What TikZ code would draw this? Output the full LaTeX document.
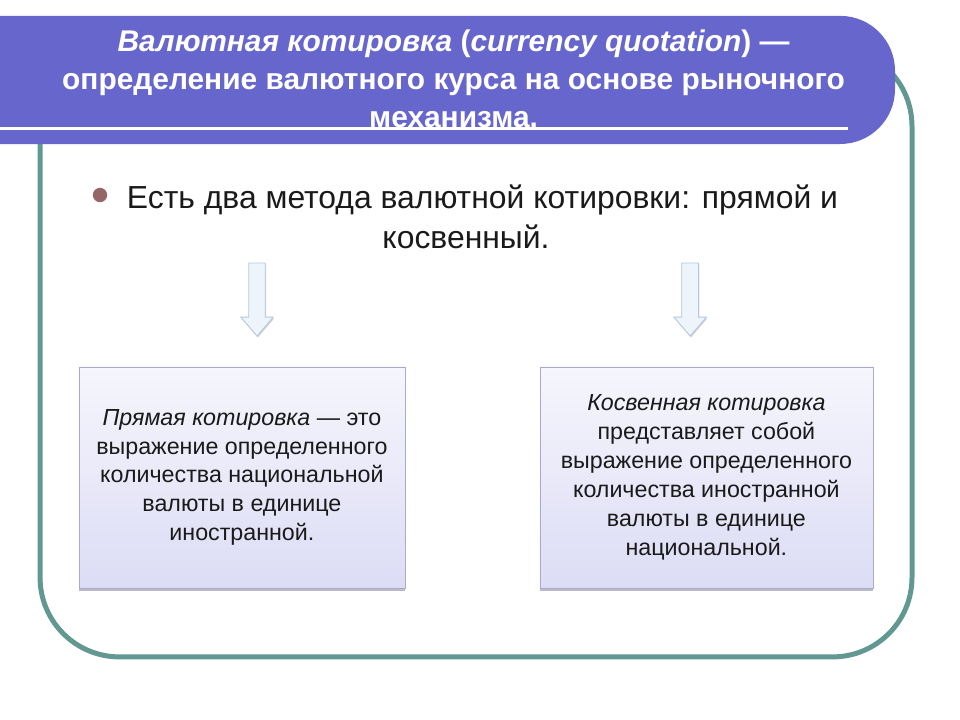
\documentclass[tikz,border=0pt]{standalone}
\usepackage{fontspec}
\setmainfont{Liberation Sans}
\usepackage{tikz}
\usetikzlibrary{positioning, calc, shadows}

\definecolor{bannerblue}{RGB}{102,102,204}
\definecolor{frameteal}{RGB}{98,152,146}
\definecolor{bulletmauve}{RGB}{150,102,102}
\definecolor{textdark}{RGB}{26,26,26}
\definecolor{arrowfill}{RGB}{238,244,252}
\definecolor{arrowedge}{RGB}{182,198,220}
\definecolor{boxtop}{RGB}{246,246,253}
\definecolor{boxbottom}{RGB}{220,220,245}
\definecolor{boxedge}{RGB}{170,170,205}
\definecolor{boxshadow}{RGB}{140,140,170}

\begin{document}
\begin{tikzpicture}[
    title/.style={
        text=white, align=center,
        font=\fontsize{22.5}{28.5}\selectfont\bfseries
    },
    intro/.style={
        text=textdark, align=center,
        font=\fontsize{24}{30}\selectfont
    },
    quotebox/.style={
        draw=boxedge, top color=boxtop, bottom color=boxbottom,
        minimum height=5.85cm, align=center, text=textdark,
        font=\fontsize{17.5}{21.7}\selectfont,
        drop shadow={shadow xshift=0pt, shadow yshift=-2pt,
                     opacity=.6, fill=boxshadow}
    },
    downarrow/.style={
        draw=arrowedge, fill=arrowfill, line width=0.6pt,
        drop shadow={shadow xshift=0.6pt, shadow yshift=-1.2pt,
                     opacity=.35}
    }
]
    \path[use as bounding box, clip] (0,0) rectangle (25.4,-19.05);

    % Frame round the slide
    \draw[frameteal, line width=3.75pt, rounded corners=2.1cm]
        (1.06,-1.24) rectangle (24.13,-17.38);

    % Title banner
    \fill[bannerblue, rounded corners=1.45cm]
        (-3,-0.42) rectangle (23.68,-3.81);
    \node[title] (head) at (12.0,-2.08)
        {\textit{Валютная котировка} (\textit{currency quotation}) —\\
         определение валютного курса на основе рыночного\\
         механизма.};
    \draw[white, line width=2.2pt] (-0.5,-3.39) -- (22.44,-3.39);

    % Bullet line
    \node[circle, fill=bulletmauve, inner sep=0pt, minimum size=0.38cm]
        (dot) at (2.646,-5.16) {};
    \node[intro] (methods) at (12.33,-5.74)
        {\hspace*{0.87cm}Есть два метода валютной котировки: прямой и\\
         косвенный.};

    % Block arrows
    \foreach \ax/\aname in {6.80/arrL, 18.26/arrR} {
        \coordinate (\aname) at (\ax,-6.96);
        \draw[downarrow, shift={(\aname)}]
            (-0.22,0) -- (0.22,0) -- (0.22,-1.43) -- (0.43,-1.43)
            -- (0,-1.93) -- (-0.43,-1.43) -- (-0.22,-1.43) -- cycle;
    }

    % Two kinds of quotation
    \node[quotebox, minimum width=8.63cm] (direct) at (6.40,-12.63)
        {\textit{Прямая котировка} — это\\
         выражение определенного\\
         количества национальной\\
         валюты в единице\\
         иностранной.};
    \node[quotebox, minimum width=8.81cm] (indirect) at (18.69,-12.63)
        {\textit{Косвенная котировка}\\
         представляет собой\\
         выражение определенного\\
         количества иностранной\\
         валюты в единице\\
         национальной.};
\end{tikzpicture}
\end{document}
